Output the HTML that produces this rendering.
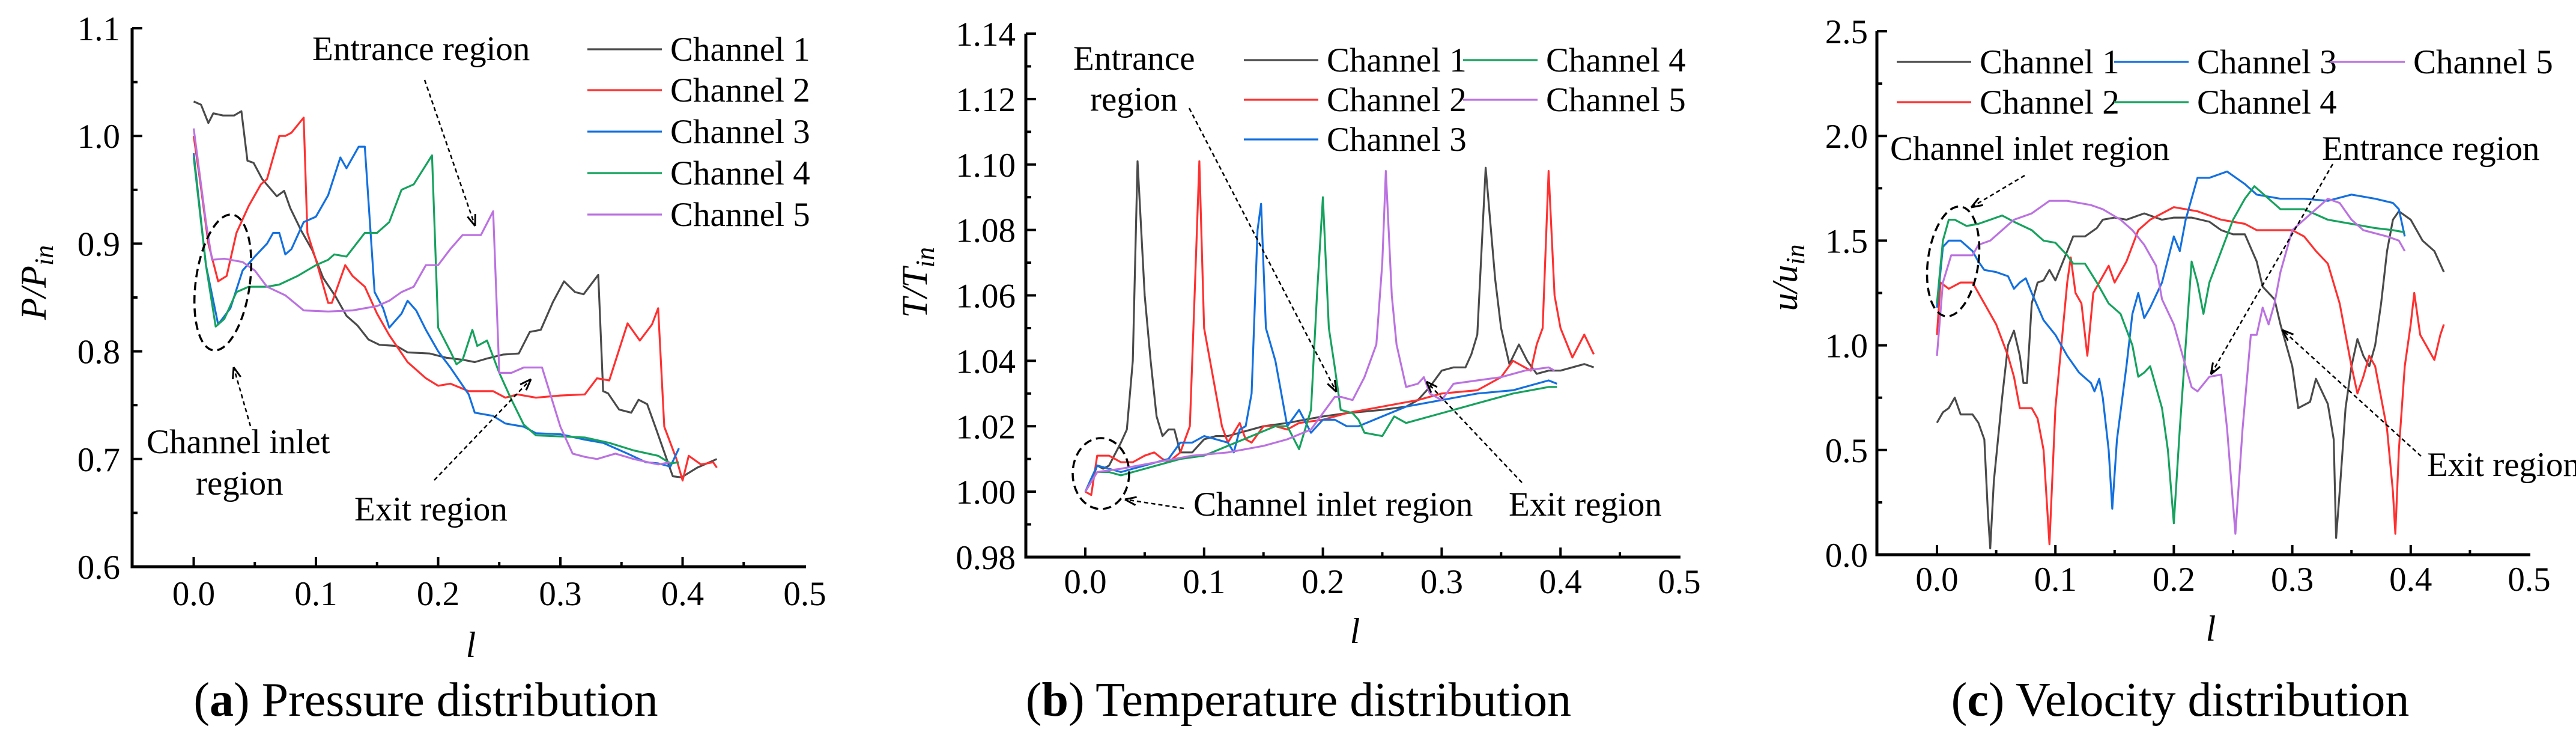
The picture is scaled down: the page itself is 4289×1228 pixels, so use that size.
<!DOCTYPE html>
<html><head><meta charset="utf-8">
<style>
html,body{margin:0;padding:0;background:#fff;}
svg{display:block;font-family:"Liberation Serif",serif;}
svg text{font-family:"Liberation Serif",serif;}
</style></head>
<body>
<svg id="fig" xmlns="http://www.w3.org/2000/svg" width="4289" height="1228" viewBox="0 0 4289 1228" font-family="Liberation Serif, serif"></svg>
<script>
// ---------- data (l, value) ----------
const xTicks = [0.0, 0.1, 0.2, 0.3, 0.4, 0.5];
const xTickLabels = ["0.0","0.1","0.2","0.3","0.4","0.5"];
const seriesNames = ["Channel 1","Channel 2","Channel 3","Channel 4","Channel 5"];
const pTicks = [0.6,0.7,0.8,0.9,1.0,1.1];
const pTickLabels = ["0.6","0.7","0.8","0.9","1.0","1.1"];
const tTicks = [0.98,1.00,1.02,1.04,1.06,1.08,1.10,1.12,1.14];
const tTickLabels = ["0.98","1.00","1.02","1.04","1.06","1.08","1.10","1.12","1.14"];
const uTicks = [0,0.5,1.0,1.5,2.0,2.5];
const uTickLabels = ["0.0","0.5","1.0","1.5","2.0","2.5"];

const pressureCh1 = [[0,1.032],[0.006,1.029],[0.012,1.012],[0.016,1.021],[0.024,1.019],[0.033,1.019],[0.039,1.023],[0.044,0.977],[0.049,0.975],[0.056,0.960],[0.068,0.944],[0.074,0.949],[0.079,0.933],[0.088,0.912],[0.097,0.894],[0.106,0.868],[0.116,0.851],[0.125,0.833],[0.134,0.824],[0.143,0.811],[0.152,0.806],[0.166,0.805],[0.175,0.799],[0.193,0.798],[0.207,0.794],[0.221,0.792],[0.230,0.790],[0.239,0.793],[0.253,0.797],[0.266,0.798],[0.275,0.818],[0.284,0.820],[0.294,0.846],[0.303,0.865],[0.312,0.855],[0.319,0.853],[0.325,0.862],[0.331,0.871],[0.335,0.763],[0.339,0.761],[0.348,0.746],[0.358,0.743],[0.364,0.755],[0.371,0.751],[0.378,0.729],[0.387,0.700],[0.392,0.684],[0.399,0.683],[0.412,0.692],[0.428,0.700]];
const pressureCh2 = [[0,1.0],[0.005,0.96],[0.012,0.90],[0.02,0.865],[0.027,0.87],[0.035,0.91],[0.045,0.935],[0.055,0.955],[0.06,0.96],[0.07,1.0],[0.075,1.0],[0.08,1.003],[0.09,1.017],[0.093,0.91],[0.1,0.885],[0.11,0.845],[0.113,0.845],[0.124,0.88],[0.13,0.87],[0.14,0.86],[0.15,0.835],[0.16,0.815],[0.175,0.79],[0.19,0.775],[0.2,0.768],[0.21,0.77],[0.225,0.763],[0.245,0.763],[0.255,0.757],[0.265,0.76],[0.28,0.757],[0.3,0.759],[0.32,0.76],[0.33,0.775],[0.34,0.773],[0.355,0.826],[0.365,0.81],[0.375,0.825],[0.38,0.84],[0.385,0.73],[0.395,0.70],[0.4,0.68],[0.405,0.703],[0.415,0.695],[0.425,0.697],[0.428,0.692]];
const pressureCh3 = [[0,0.984],[0.01,0.88],[0.02,0.825],[0.03,0.84],[0.04,0.875],[0.05,0.888],[0.06,0.9],[0.065,0.91],[0.07,0.91],[0.075,0.89],[0.08,0.895],[0.09,0.92],[0.1,0.925],[0.11,0.945],[0.12,0.98],[0.125,0.97],[0.135,0.99],[0.14,0.99],[0.148,0.855],[0.155,0.84],[0.16,0.822],[0.17,0.835],[0.175,0.847],[0.182,0.838],[0.19,0.82],[0.2,0.8],[0.21,0.785],[0.225,0.76],[0.23,0.743],[0.245,0.74],[0.255,0.733],[0.27,0.73],[0.28,0.724],[0.3,0.723],[0.32,0.718],[0.335,0.715],[0.355,0.705],[0.37,0.697],[0.38,0.696],[0.39,0.693],[0.397,0.71]];
const pressureCh4 = [[0,0.98],[0.01,0.88],[0.018,0.823],[0.025,0.83],[0.035,0.855],[0.045,0.86],[0.06,0.86],[0.07,0.862],[0.085,0.87],[0.1,0.88],[0.11,0.885],[0.115,0.89],[0.125,0.888],[0.14,0.91],[0.15,0.91],[0.16,0.92],[0.17,0.95],[0.18,0.955],[0.195,0.982],[0.2,0.822],[0.21,0.8],[0.215,0.788],[0.22,0.792],[0.228,0.82],[0.232,0.805],[0.24,0.81],[0.25,0.78],[0.26,0.755],[0.27,0.732],[0.28,0.722],[0.3,0.721],[0.32,0.72],[0.34,0.715],[0.36,0.708],[0.38,0.703],[0.39,0.696],[0.397,0.697]];
const pressureCh5 = [[0,1.007],[0.01,0.92],[0.015,0.885],[0.025,0.886],[0.04,0.883],[0.05,0.875],[0.06,0.86],[0.075,0.852],[0.09,0.838],[0.11,0.837],[0.13,0.838],[0.15,0.842],[0.16,0.847],[0.17,0.855],[0.18,0.86],[0.19,0.88],[0.2,0.88],[0.21,0.895],[0.22,0.908],[0.235,0.908],[0.245,0.93],[0.25,0.78],[0.26,0.78],[0.27,0.785],[0.285,0.785],[0.3,0.73],[0.31,0.705],[0.32,0.702],[0.33,0.70],[0.345,0.705],[0.36,0.70],[0.38,0.695],[0.39,0.697]];

const tempCh1 = [[0,1.0],[0.005,1.003],[0.01,1.008],[0.015,1.007],[0.02,1.008],[0.03,1.015],[0.035,1.019],[0.04,1.04],[0.044,1.101],[0.05,1.06],[0.055,1.04],[0.06,1.023],[0.065,1.017],[0.07,1.019],[0.075,1.019],[0.08,1.012],[0.09,1.012],[0.1,1.016],[0.11,1.017],[0.12,1.017],[0.13,1.018],[0.15,1.02],[0.17,1.021],[0.2,1.023],[0.22,1.024],[0.25,1.025],[0.27,1.026],[0.28,1.028],[0.29,1.032],[0.3,1.037],[0.31,1.038],[0.32,1.038],[0.325,1.042],[0.33,1.048],[0.337,1.099],[0.345,1.065],[0.35,1.05],[0.357,1.039],[0.365,1.045],[0.372,1.04],[0.38,1.036],[0.39,1.037],[0.4,1.037],[0.42,1.039],[0.428,1.038]];
const tempCh2 = [[0,1.0],[0.005,0.999],[0.01,1.011],[0.02,1.011],[0.03,1.009],[0.04,1.009],[0.05,1.011],[0.058,1.012],[0.065,1.01],[0.07,1.009],[0.08,1.012],[0.088,1.02],[0.092,1.06],[0.096,1.101],[0.1,1.05],[0.105,1.04],[0.11,1.03],[0.115,1.02],[0.12,1.015],[0.125,1.018],[0.13,1.021],[0.135,1.016],[0.14,1.015],[0.15,1.02],[0.16,1.02],[0.17,1.019],[0.18,1.021],[0.2,1.022],[0.22,1.024],[0.25,1.026],[0.28,1.028],[0.3,1.03],[0.33,1.031],[0.35,1.035],[0.36,1.04],[0.37,1.038],[0.375,1.037],[0.38,1.045],[0.385,1.05],[0.39,1.098],[0.395,1.06],[0.4,1.05],[0.41,1.041],[0.42,1.048],[0.428,1.042]];
const tempCh3 = [[0,1.0],[0.005,1.004],[0.01,1.008],[0.02,1.007],[0.03,1.006],[0.04,1.007],[0.05,1.008],[0.06,1.009],[0.07,1.01],[0.08,1.015],[0.09,1.015],[0.1,1.017],[0.11,1.016],[0.12,1.015],[0.125,1.012],[0.13,1.019],[0.135,1.02],[0.14,1.03],[0.145,1.08],[0.148,1.088],[0.152,1.05],[0.16,1.04],[0.165,1.03],[0.17,1.02],[0.18,1.025],[0.19,1.018],[0.2,1.022],[0.21,1.022],[0.22,1.02],[0.23,1.02],[0.25,1.023],[0.27,1.026],[0.3,1.028],[0.33,1.03],[0.36,1.031],[0.39,1.034],[0.397,1.033]];
const tempCh4 = [[0,1.0],[0.005,1.003],[0.01,1.006],[0.02,1.006],[0.03,1.005],[0.04,1.006],[0.06,1.008],[0.08,1.01],[0.1,1.011],[0.12,1.014],[0.14,1.017],[0.16,1.02],[0.17,1.02],[0.18,1.013],[0.19,1.025],[0.195,1.06],[0.2,1.09],[0.205,1.05],[0.21,1.038],[0.215,1.025],[0.225,1.024],[0.23,1.022],[0.235,1.018],[0.25,1.017],[0.26,1.023],[0.27,1.021],[0.3,1.024],[0.33,1.027],[0.36,1.03],[0.39,1.032],[0.397,1.032]];
const tempCh5 = [[0,1.0],[0.01,1.006],[0.03,1.007],[0.06,1.009],[0.09,1.011],[0.12,1.012],[0.15,1.014],[0.17,1.016],[0.19,1.019],[0.2,1.024],[0.21,1.029],[0.215,1.029],[0.225,1.028],[0.235,1.035],[0.245,1.045],[0.25,1.07],[0.253,1.098],[0.258,1.06],[0.262,1.045],[0.27,1.032],[0.28,1.033],[0.285,1.035],[0.29,1.03],[0.3,1.028],[0.31,1.033],[0.33,1.034],[0.35,1.035],[0.37,1.037],[0.39,1.038],[0.395,1.037]];

const velCh1 = [[0,0.63],[0.005,0.68],[0.01,0.7],[0.015,0.75],[0.02,0.67],[0.03,0.67],[0.035,0.63],[0.04,0.55],[0.043,0.2],[0.045,0.03],[0.048,0.35],[0.055,0.75],[0.06,1.0],[0.065,1.07],[0.07,0.95],[0.073,0.82],[0.076,0.82],[0.08,1.2],[0.085,1.3],[0.09,1.31],[0.095,1.36],[0.1,1.31],[0.11,1.45],[0.115,1.52],[0.125,1.52],[0.135,1.56],[0.14,1.6],[0.15,1.61],[0.16,1.6],[0.175,1.63],[0.19,1.6],[0.2,1.61],[0.215,1.61],[0.23,1.59],[0.24,1.55],[0.25,1.53],[0.26,1.53],[0.27,1.4],[0.275,1.28],[0.285,1.22],[0.29,1.1],[0.3,0.9],[0.305,0.7],[0.315,0.73],[0.32,0.84],[0.33,0.72],[0.335,0.55],[0.337,0.08],[0.34,0.3],[0.345,0.7],[0.35,0.9],[0.355,1.03],[0.36,0.95],[0.365,0.9],[0.37,1.0],[0.375,1.2],[0.38,1.45],[0.385,1.6],[0.39,1.64],[0.4,1.6],[0.41,1.5],[0.42,1.45],[0.428,1.35]];
const velCh2 = [[0,1.05],[0.003,1.3],[0.01,1.27],[0.02,1.3],[0.03,1.3],[0.04,1.2],[0.05,1.1],[0.06,0.95],[0.065,0.85],[0.07,0.7],[0.08,0.7],[0.085,0.65],[0.09,0.5],[0.095,0.05],[0.1,0.7],[0.105,1.0],[0.11,1.3],[0.113,1.42],[0.117,1.25],[0.122,1.2],[0.127,0.95],[0.132,1.25],[0.14,1.33],[0.145,1.38],[0.15,1.3],[0.16,1.4],[0.17,1.55],[0.18,1.6],[0.2,1.66],[0.22,1.64],[0.24,1.6],[0.26,1.58],[0.27,1.55],[0.3,1.55],[0.31,1.52],[0.32,1.45],[0.33,1.39],[0.34,1.2],[0.35,0.9],[0.355,0.77],[0.36,0.85],[0.365,0.95],[0.37,0.9],[0.375,0.75],[0.38,0.6],[0.385,0.3],[0.387,0.1],[0.39,0.5],[0.395,0.9],[0.4,1.1],[0.403,1.25],[0.408,1.05],[0.415,0.98],[0.42,0.93],[0.425,1.05],[0.428,1.1]];
const velCh3 = [[0,1.18],[0.005,1.47],[0.01,1.5],[0.02,1.5],[0.03,1.45],[0.035,1.4],[0.04,1.36],[0.05,1.35],[0.06,1.33],[0.065,1.27],[0.07,1.3],[0.075,1.32],[0.08,1.25],[0.09,1.12],[0.1,1.05],[0.11,0.95],[0.12,0.87],[0.13,0.82],[0.133,0.78],[0.137,0.84],[0.14,0.75],[0.145,0.5],[0.148,0.22],[0.152,0.55],[0.16,0.9],[0.165,1.15],[0.17,1.25],[0.175,1.13],[0.18,1.18],[0.19,1.3],[0.2,1.52],[0.205,1.45],[0.21,1.6],[0.22,1.8],[0.23,1.8],[0.245,1.83],[0.26,1.77],[0.27,1.72],[0.29,1.7],[0.31,1.7],[0.33,1.69],[0.35,1.72],[0.37,1.7],[0.385,1.68],[0.39,1.65],[0.395,1.52]];
const velCh4 = [[0,1.2],[0.005,1.5],[0.01,1.6],[0.015,1.6],[0.025,1.57],[0.035,1.58],[0.045,1.6],[0.055,1.62],[0.065,1.59],[0.08,1.55],[0.09,1.5],[0.1,1.49],[0.11,1.43],[0.115,1.39],[0.125,1.39],[0.135,1.3],[0.145,1.2],[0.155,1.15],[0.165,1.0],[0.17,0.85],[0.175,0.87],[0.18,0.9],[0.19,0.7],[0.195,0.5],[0.2,0.15],[0.205,0.6],[0.21,1.0],[0.215,1.4],[0.22,1.3],[0.225,1.15],[0.23,1.3],[0.24,1.45],[0.25,1.6],[0.26,1.7],[0.268,1.76],[0.28,1.7],[0.29,1.65],[0.31,1.65],[0.33,1.6],[0.35,1.58],[0.37,1.56],[0.385,1.55],[0.395,1.54]];
const velCh5 = [[0,0.95],[0.005,1.3],[0.012,1.43],[0.02,1.43],[0.03,1.43],[0.035,1.48],[0.045,1.5],[0.055,1.55],[0.065,1.6],[0.08,1.63],[0.095,1.69],[0.11,1.69],[0.13,1.67],[0.14,1.65],[0.155,1.6],[0.165,1.55],[0.175,1.48],[0.185,1.38],[0.19,1.22],[0.2,1.1],[0.21,0.9],[0.215,0.8],[0.22,0.78],[0.23,0.85],[0.24,0.86],[0.245,0.6],[0.252,0.1],[0.258,0.6],[0.265,1.05],[0.27,1.05],[0.275,1.18],[0.28,1.1],[0.285,1.2],[0.29,1.35],[0.3,1.55],[0.31,1.6],[0.32,1.65],[0.33,1.7],[0.34,1.68],[0.35,1.6],[0.36,1.55],[0.38,1.52],[0.39,1.5],[0.395,1.45]];

const colors = ["#4a4a4a","#ff3030","#1370df","#16a25e","#bb72e0"];
const FONT = "Liberation Serif, serif";
const NS = "http://www.w3.org/2000/svg";
const svg = document.getElementById('fig');
function mk(tag, attrs, parent){ const e=document.createElementNS(NS,tag); for(const k in attrs) e.setAttribute(k,attrs[k]); if(tag==='text') e.setAttribute('font-family',FONT); (parent||svg).appendChild(e); return e; }

const panels = [
 {key:'pressure', left:220, x0:322.5, xUnit:2035, bottom:943, top:47, yMin:0.6, yMax:1.1, yTicks:pTicks, yLabels:pTickLabels, yMinor:0.05, series:[pressureCh1,pressureCh2,pressureCh3,pressureCh4,pressureCh5], tickLabelX:200, tickBase:1007, lblX:56, lblY:470, sym:'P', sub:'in', xlX:784, xlY:1093, title:'Pressure distribution', tl:'a', titleX:709},
 {key:'temperature', left:1708, x0:1807, xUnit:1978, bottom:927, top:56, yMin:0.98, yMax:1.14, yTicks:tTicks, yLabels:tTickLabels, yMinor:0.01, series:[tempCh1,tempCh2,tempCh3,tempCh4,tempCh5], tickLabelX:1691, tickBase:987, lblX:1523, lblY:470, sym:'T', sub:'in', xlX:2256, xlY:1070, title:'Temperature distribution', tl:'b', titleX:2162},
 {key:'velocity', left:3125, x0:3225, xUnit:1972, bottom:923, top:52, yMin:0, yMax:2.5, yTicks:uTicks, yLabels:uTickLabels, yMinor:0.25, series:[velCh1,velCh2,velCh3,velCh4,velCh5], tickLabelX:3110, tickBase:983, lblX:2972, lblY:462, sym:'u', sub:'in', xlX:3681, xlY:1066, title:'Velocity distribution', tl:'c', titleX:3630}
];

panels.forEach((p,pi)=>{
  const g = mk('g',{});
  
  
  const X = v => p.x0 + v*p.xUnit;
  const Y = v => p.bottom - (v-p.yMin)/(p.yMax-p.yMin)*(p.bottom-p.top);
  const xRight = X(0.5);
  p.series.forEach((s,si)=>{
    const d = s.map((pt,i)=>(i?'L':'M')+X(pt[0]).toFixed(1)+' '+Y(pt[1]).toFixed(1)).join(' ');
    const path = mk('path',{d:d, fill:'none', stroke:colors[si], 'stroke-width':3.2, 'stroke-linejoin':'round'}, g);
    
    
  });
  const ax = mk('path',{d:`M${p.left} ${p.top} L${p.left} ${p.bottom} L${xRight+2} ${p.bottom}`, fill:'none', stroke:'#000', 'stroke-width':5}, g);
  
  
  for(let k=1;k<=10;k++){
    const v = -0.05 + k*0.05;
    const major = k%2===1;
    mk('line',{x1:X(v),x2:X(v),y1:p.bottom,y2:p.bottom-(major?16:8),stroke:'#000','stroke-width':4}, g);
  }
  xTicks.forEach((v,i)=>{
    const t = mk('text',{x:X(v), y:p.tickBase, 'font-size':57, 'text-anchor':'middle'}, g);
    t.textContent = xTickLabels[i];
    
    
  });
  const nMin = Math.round((p.yMax-p.yMin)/p.yMinor);
  for(let k=0;k<=nMin;k++){
    const v = p.yMin + k*p.yMinor;
    const major = k%2===0;
    mk('line',{x1:p.left,x2:p.left+(major?17:9),y1:Y(v),y2:Y(v),stroke:'#000','stroke-width':4}, g);
  }
  p.yTicks.forEach((v,i)=>{
    const t = mk('text',{x:p.tickLabelX, y:Y(v)+20, 'font-size':57, 'text-anchor':'end'}, g);
    t.textContent = p.yLabels[i];
    
    
  });
  const yl = mk('text',{x:p.lblX, y:p.lblY, 'font-size':60, 'font-style':'italic', 'text-anchor':'middle', transform:`rotate(-90 ${p.lblX} ${p.lblY})`, dy:20}, g);
  
  
  yl.innerHTML = `${p.sym}/${p.sym}<tspan font-size="44" dy="12">${p.sub}</tspan>`;
  const xl = mk('text',{x:p.xlX, y:p.xlY, 'font-size':60, 'font-style':'italic', 'text-anchor':'middle'}, g);
  xl.textContent = 'l';
  
  
  const ti = mk('text',{x:p.titleX, y:1191, 'font-size':80, 'text-anchor':'middle'}, g);
  ti.innerHTML = `(<tspan font-weight="bold">${p.tl}</tspan>) ${p.title}`;
  
  
});

const legendA = [[978,82],[978,150],[978,219],[978,288],[978,357]];
const legendB = [[2071,100],[2071,166],[2071,232],[2436,100],[2436,166]];
const legendC = [[3158,103],[3158,170],[3520,103],[3520,170],[3880,103]];
[[legendA,'pressure'],[legendB,'temperature'],[legendC,'velocity']].forEach(([L,key])=>{
  L.forEach((pos,i)=>{
    const g = mk('g',{});
    
    
    mk('line',{x1:pos[0],x2:pos[0]+124,y1:pos[1],y2:pos[1],stroke:colors[i],'stroke-width':3.2}, g);
    const t = mk('text',{x:pos[0]+138,y:pos[1]+19,'font-size':57}, g);
    t.textContent = seriesNames[i];
  });
});

function note(txt,x,y,name){ const t=mk('text',{x:x,y:y,'font-size':57}); t.textContent=txt;
  
   }
function arrow(x1,y1,x2,y2,name){
  const g=mk('g',{});
  
  
  mk('line',{x1:x1,y1:y1,x2:x2,y2:y2,stroke:'#000','stroke-width':2.5,'stroke-dasharray':'7 5'},g);
  const a=Math.atan2(y2-y1,x2-x1), L=20, w=0.35;
  mk('path',{d:`M${x2} ${y2} L${x2-L*Math.cos(a-w)} ${y2-L*Math.sin(a-w)} M${x2} ${y2} L${x2-L*Math.cos(a+w)} ${y2-L*Math.sin(a+w)}`,stroke:'#000','stroke-width':3,fill:'none'},g);
}
function ellipse(cx,cy,rx,ry,rot,name){
  const e=mk('ellipse',{cx:cx,cy:cy,rx:rx,ry:ry,fill:'none',stroke:'#000','stroke-width':3.5,'stroke-dasharray':'14 8',transform:`rotate(${rot} ${cx} ${cy})`});
  
  
}
note('Entrance region',520,100,'pressure-entrance-label');
arrow(707,133,791,376,'pressure-entrance-arrow');
note('Channel inlet',244,754,'pressure-inlet-label');
note('region',326,823,'pressure-inlet-label-2');
arrow(417,709,389,611,'pressure-inlet-arrow');
ellipse(371,470,45,114,8,'pressure-inlet-ellipse');
note('Exit region',590,866,'pressure-exit-label');
arrow(723,799,884,631,'pressure-exit-arrow');
note('Entrance',1787,116,'temperature-entrance-label');
note('region',1815,184,'temperature-entrance-label-2');
arrow(1980,180,2225,652,'temperature-entrance-arrow');
ellipse(1833,788,47,59,0,'temperature-inlet-ellipse');
note('Channel inlet region',1987,858,'temperature-inlet-label');
arrow(1971,846,1873,831,'temperature-inlet-arrow');
note('Exit region',2512,858,'temperature-exit-label');
arrow(2534,803,2375,635,'temperature-exit-arrow');
note('Channel inlet region',3147,266,'velocity-inlet-label');
arrow(3371,292,3282,345,'velocity-inlet-arrow');
ellipse(3252,435,42,92,8,'velocity-inlet-ellipse');
note('Entrance region',3866,266,'velocity-entrance-label');
arrow(3884,273,3681,623,'velocity-entrance-arrow');
note('Exit region',4041,792,'velocity-exit-label');
arrow(4031,759,3800,549,'velocity-exit-arrow');
</script>
</body></html>
